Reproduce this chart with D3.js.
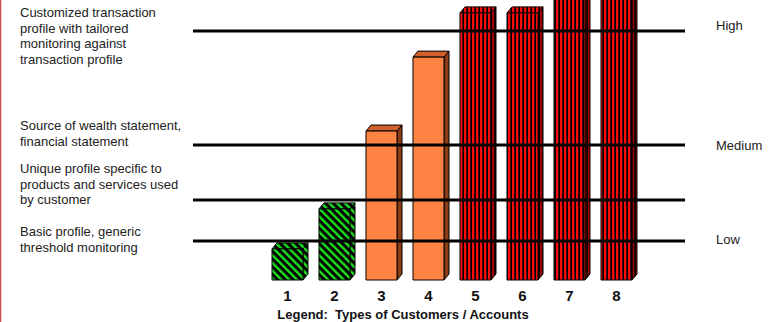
<!DOCTYPE html>
<html><head><meta charset="utf-8">
<script src="https://cdn.jsdelivr.net/npm/d3@7"></script>
<style>html,body{margin:0;padding:0;background:#fff;overflow:hidden}</style>
</head><body>
<svg id="c" width="768" height="322"></svg>
<script>
const categories = ["1","2","3","4","5","6","7","8"];
const values = [1.11, 2.54, 5.32, 7.96, 9.54, 9.54, 10.6, 10.6];
const groups = ["green","green","orange","orange","red","red","red","red"];
const levelValues = [8.89, 4.82, 2.86, 1.39];
const levelNames = ["High","Medium","","Low"];
const descriptions = [
  ["Customized transaction","profile with tailored","monitoring against","transaction profile"],
  ["Source of wealth statement,","financial statement"],
  ["Unique profile specific to","products and services used","by customer"],
  ["Basic profile, generic","threshold monitoring"]
];
const axisTitle = "Legend:  Types of Customers / Accounts";

const svg = d3.select("#c");
const font = "'Liberation Sans', Arial, sans-serif";
const x = d3.scaleBand().domain(categories).range([264, 640]).paddingInner(0.34).paddingOuter(0.17);
const y = d3.scaleLinear().domain([0, 10]).range([280, 0]);
const dx = 5, dy = -6;

const defs = svg.append("defs");
// green diagonal stripes
const pg = defs.append("pattern").attr("id","pGreen").attr("patternUnits","userSpaceOnUse")
  .attr("width",5.5).attr("height",5.5).attr("patternTransform","rotate(-45)");
pg.append("rect").attr("width",5.5).attr("height",5.5).attr("fill","#000");
pg.append("rect").attr("width",2.4).attr("height",5.5).attr("fill","#1ee01e");
// red vertical stripes
const pr = defs.append("pattern").attr("id","pRed").attr("patternUnits","userSpaceOnUse")
  .attr("width",4).attr("height",4);
pr.append("rect").attr("width",4).attr("height",4).attr("fill","#000");
pr.append("rect").attr("width",2.3).attr("height",4).attr("fill","#ff0a0a");
const prd = defs.append("pattern").attr("id","pRedDark").attr("patternUnits","userSpaceOnUse")
  .attr("width",4).attr("height",4);
prd.append("rect").attr("width",4).attr("height",4).attr("fill","#000");
prd.append("rect").attr("width",2.3).attr("height",4).attr("fill","#a00000");

const fills = {
  green: {front:"url(#pGreen)", side:"url(#pGreen)", top:"url(#pGreen)"},
  orange:{front:"#ff8444", side:"#8a3c14", top:"#d0602c"},
  red:   {front:"url(#pRed)", side:"url(#pRedDark)", top:"url(#pRed)"}
};

// left border
svg.append("line").attr("x1",0.5).attr("x2",0.5).attr("y1",0).attr("y2",322)
  .attr("stroke","#d04848").attr("stroke-width",1.5);

const bars = svg.append("g");
categories.forEach((c,i)=>{
  const x0 = x(c), w = x.bandwidth(), yt = y(values[i]), yb = y(0);
  const f = fills[groups[i]];
  const g = bars.append("g").attr("stroke","#000").attr("stroke-width",1).attr("stroke-linejoin","round");
  g.append("polygon").attr("points",[[x0+w,yt],[x0+w+dx,yt+dy],[x0+w+dx,yb+dy],[x0+w,yb]].join(" ")).attr("fill",f.side);
  g.append("polygon").attr("points",[[x0,yt],[x0+dx,yt+dy],[x0+w+dx,yt+dy],[x0+w,yt]].join(" ")).attr("fill",f.top);
  g.append("rect").attr("x",x0).attr("y",yt).attr("width",w).attr("height",yb-yt).attr("fill",f.front);
});

// level lines
svg.append("g").selectAll("line").data(levelValues).join("line")
  .attr("x1",193).attr("x2",685).attr("y1",d=>y(d)).attr("y2",d=>y(d))
  .attr("stroke","#000").attr("stroke-width",3);

// right labels
const rightY = [26, 146, null, 240];
svg.append("g").selectAll("text").data(levelNames).join("text")
  .filter(d=>d!=="")
  .attr("x",716).attr("y",(d,i)=>rightY[levelNames.indexOf(d)]+4)
  .attr("font-family",font).attr("font-size",13).attr("fill","#222").text(d=>d);

// left descriptions
const descTop = [17, 130, 173, 236];
descriptions.forEach((lines,i)=>{
  const t = svg.append("text").attr("font-family",font).attr("font-size",13).attr("fill","#222");
  lines.forEach((l,j)=>t.append("tspan").attr("x",20).attr("y",descTop[i]+j*15.6).text(l));
});

// category labels
svg.append("g").selectAll("text").data(categories).join("text")
  .attr("x",d=>x(d)+x.bandwidth()/2).attr("y",301).attr("text-anchor","middle")
  .attr("font-family",font).attr("font-size",15).attr("font-weight","bold").attr("fill","#111").text(d=>d);

svg.append("text").attr("x",403).attr("y",319).attr("text-anchor","middle")
  .attr("font-family",font).attr("font-size",13).attr("font-weight","bold").attr("fill","#111")
  .attr("xml:space","preserve").style("white-space","pre").text(axisTitle);
</script>
</body></html>
